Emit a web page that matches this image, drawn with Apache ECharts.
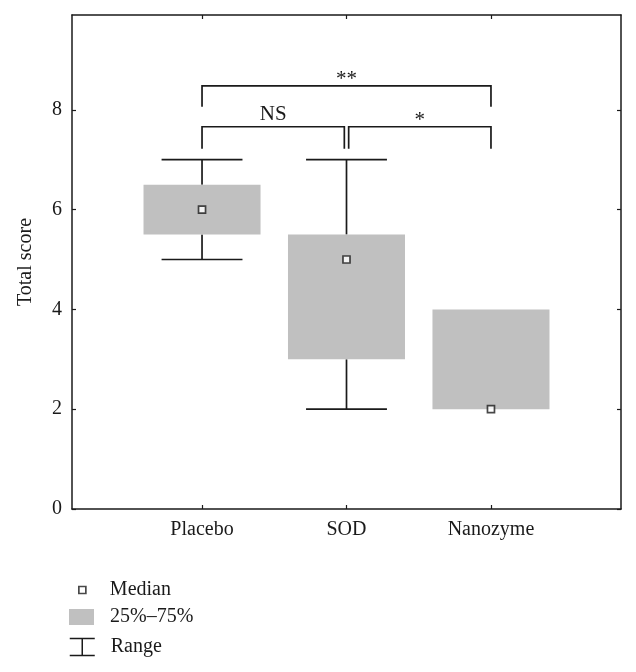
<!DOCTYPE html>
<html>
<head>
<meta charset="utf-8">
<script src="https://cdn.jsdelivr.net/npm/echarts@6/dist/echarts.min.js"></script>
<style>
html,body{margin:0;padding:0;background:#fff;}
#chart{width:636px;height:672px;}
</style>
</head>
<body>
<div id="chart"></div>
<script>
// ---- data ----
const categories = ['Placebo', 'SOD', 'Nanozyme'];
const minVals    = [5, 2, 2];
const q1Vals     = [5.5, 3, 2];
const medianVals = [6, 5, 2];
const q3Vals     = [6.5, 5.5, 4];
const maxVals    = [7, 7, 4];
const yTicks     = [0, 2, 4, 6, 8];
const xTicks     = [1, 2, 3];
// significance brackets (in data units)
const bracketFrom   = [1, 1, 2.015];
const bracketTo     = [3, 1.985, 3];
const bracketTop    = [8.48, 7.66, 7.66];
const bracketLeg    = [8.06, 7.22, 7.22];
const bracketLabels = ['**', 'NS', '*'];
const legendNames   = ['Median', '25%\u201375%', 'Range'];

// ---- styles ----
const FONT = 'Liberation Serif';
const INK = '#1a1a1a';
const BOX_FILL = '#c0c0c0';
const BOX_W = 0.81;
const CAP_W = 0.56;
const LW = 1.7;

const boxData = categories.map((c, i) => [i + 1, q1Vals[i], q3Vals[i]]);
const rangeData = categories.map((c, i) => [i + 1, minVals[i], q1Vals[i], q3Vals[i], maxVals[i]]);
const medianData = categories.map((c, i) => [i + 1, medianVals[i]]);
const bracketData = bracketLabels.map((l, i) => [bracketFrom[i], bracketTo[i], bracketTop[i], bracketLeg[i], i]);

function line(p, q) {
  return { type: 'line', shape: { x1: p[0], y1: p[1], x2: q[0], y2: q[1] },
           style: { stroke: INK, lineWidth: LW } };
}

function renderBox(params, api) {
  const x = api.value(0), lo = api.value(1), hi = api.value(2);
  const a = api.coord([x - BOX_W / 2, hi]);
  const b = api.coord([x + BOX_W / 2, lo]);
  return { type: 'rect', shape: { x: a[0], y: a[1], width: b[0] - a[0], height: b[1] - a[1] },
           style: { fill: BOX_FILL } };
}

function renderRange(params, api) {
  const x = api.value(0), mn = api.value(1), q1 = api.value(2), q3 = api.value(3), mx = api.value(4);
  const children = [];
  if (mx > q3) {
    children.push(line(api.coord([x, q3]), api.coord([x, mx])));
    children.push(line(api.coord([x - CAP_W / 2, mx]), api.coord([x + CAP_W / 2, mx])));
  }
  if (mn < q1) {
    children.push(line(api.coord([x, mn]), api.coord([x, q1])));
    children.push(line(api.coord([x - CAP_W / 2, mn]), api.coord([x + CAP_W / 2, mn])));
  }
  return { type: 'group', children };
}

function renderBracket(params, api) {
  const x1 = api.value(0), x2 = api.value(1), top = api.value(2), leg = api.value(3);
  const label = bracketLabels[api.value(4)];
  const a = api.coord([x1, leg]), b = api.coord([x1, top]);
  const c = api.coord([x2, top]), d = api.coord([x2, leg]);
  const star = label.indexOf('*') >= 0;
  return {
    type: 'group',
    children: [
      { type: 'polyline', shape: { points: [a, b, c, d] },
        style: { stroke: INK, lineWidth: LW, fill: null } },
      { type: 'text', x: (b[0] + c[0]) / 2, y: b[1] + (star ? -6 : -12),
        style: { text: label, fill: INK, font: '21px ' + FONT,
                 align: 'center', verticalAlign: 'middle' } }
    ]
  };
}

const axisLineStyle = { color: INK, width: 1.5 };

const option = {
  animation: false,
  backgroundColor: '#fff',
  grid: { left: 72, right: 15, top: 15, bottom: 163, containLabel: false },
  legend: [
    { data: [{ name: legendNames[0], icon: 'path://M0,0h1v1h-1z',
               itemStyle: { color: '#fff', borderColor: INK, borderWidth: 1.7 } }],
      left: 78, top: 580, padding: 0, itemWidth: 25, itemHeight: 7, selectedMode: false,
      textStyle: { fontFamily: FONT, fontSize: 20, color: INK, padding: [4, 0, 0, 10] } },
    { data: [{ name: legendNames[1], icon: 'rect', itemStyle: { color: BOX_FILL } }],
      left: 69, top: 607, padding: 0, itemWidth: 25, itemHeight: 16, selectedMode: false,
      textStyle: { fontFamily: FONT, fontSize: 20, color: INK, padding: [4, 0, 0, 11] } },
    { data: [{ name: legendNames[2], icon: 'path://M0,0H25M12.5,0V17M0,17H25',
               itemStyle: { color: 'transparent', borderColor: INK, borderWidth: 1.5 } }],
      left: 69, top: 637, padding: 0, itemWidth: 25, itemHeight: 17, selectedMode: false,
      textStyle: { fontFamily: FONT, fontSize: 20, color: INK, padding: [4, 0, 0, 11] } }
  ],
  xAxis: [
    { type: 'value', position: 'bottom', min: 0.1, max: 3.9,
      axisLine: { show: true, onZero: false, lineStyle: axisLineStyle },
      axisTick: { show: true, inside: true, length: 4, customValues: xTicks, lineStyle: { color: INK, width: 1.2 } },
      axisLabel: { show: true, customValues: xTicks, margin: 11,
                   formatter: v => categories[Math.round(v) - 1] || '',
                   fontFamily: FONT, fontSize: 20, color: INK },
      splitLine: { show: false } },
    { type: 'value', position: 'top', min: 0.1, max: 3.9,
      axisLine: { show: true, onZero: false, lineStyle: axisLineStyle },
      axisTick: { show: true, inside: true, length: 4, customValues: xTicks, lineStyle: { color: INK, width: 1.2 } },
      axisLabel: { show: false }, splitLine: { show: false } }
  ],
  yAxis: [
    { type: 'value', position: 'left', min: 0, max: 9.9,
      name: 'Total score', nameLocation: 'middle', nameGap: 36,
      nameTextStyle: { fontFamily: FONT, fontSize: 20, color: INK },
      axisLine: { show: true, onZero: false, lineStyle: axisLineStyle },
      axisTick: { show: true, inside: true, length: 4, customValues: yTicks, lineStyle: { color: INK, width: 1.2 } },
      axisLabel: { show: true, customValues: yTicks, margin: 10,
                   fontFamily: FONT, fontSize: 20, color: INK },
      splitLine: { show: false } },
    { type: 'value', position: 'right', min: 0, max: 9.9,
      axisLine: { show: true, onZero: false, lineStyle: axisLineStyle },
      axisTick: { show: true, inside: true, length: 4, customValues: yTicks, lineStyle: { color: INK, width: 1.2 } },
      axisLabel: { show: false }, splitLine: { show: false } }
  ],
  series: [
    { name: legendNames[2], type: 'custom', renderItem: renderRange, data: rangeData,
      itemStyle: { color: INK }, z: 2, encode: { x: 0, y: [1, 4] } },
    { name: legendNames[1], type: 'custom', renderItem: renderBox, data: boxData,
      itemStyle: { color: BOX_FILL }, z: 3, encode: { x: 0, y: [1, 2] } },
    { name: legendNames[0], type: 'scatter', data: medianData, symbol: 'rect', symbolSize: 7,
      itemStyle: { color: '#fff', borderColor: INK, borderWidth: 1.7 }, z: 5 },
    { name: 'brackets', type: 'custom', renderItem: renderBracket, data: bracketData,
      z: 4, encode: { x: [0, 1], y: [2, 3] }, silent: true }
  ]
};

const chart = echarts.init(document.getElementById('chart'), null, { renderer: 'canvas' });
chart.setOption(option);
</script>
</body>
</html>
